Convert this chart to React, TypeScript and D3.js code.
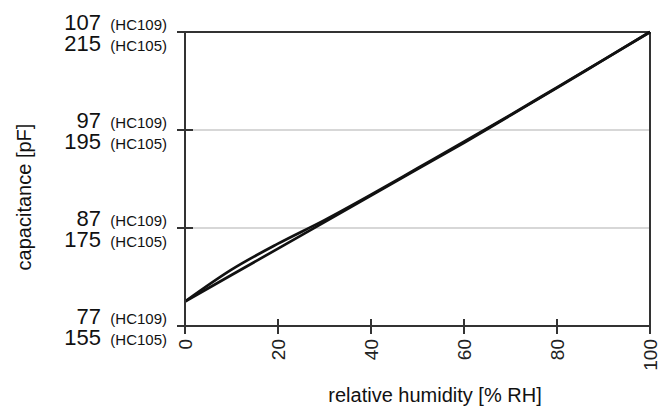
import React from 'react';
import * as d3 from 'd3';

// relative humidity [% RH]
const rh = [0, 10, 20, 30, 40, 50, 60, 70, 80, 90, 100];
// capacitance in HC105 pF, two nearly identical curves
const curveA = [160, 165.4, 170.8, 176.2, 181.6, 187.0, 192.4, 198.0, 203.6, 209.3, 215];
const curveB = [160, 166.5, 171.8, 176.6, 181.8, 187.2, 192.6, 198.1, 203.7, 209.3, 215];

const yTicks105 = [155, 175, 195, 215];
const yTicks109 = [77, 87, 97, 107];
const xTicks = [0, 20, 40, 60, 80, 100];

const W = 667;
const H = 407;
const left = 185, right = 650, top = 32, bottom = 326;
const font = '"Liberation Sans", Arial, sans-serif';

export default function App() {
  const x = d3.scaleLinear().domain([0, 100]).range([left, right]);
  const y = d3.scaleLinear().domain([155, 215]).range([bottom, top]);

  const line = d3
    .line<number>()
    .x((d, i) => x(rh[i]))
    .y((d) => y(d))
    .curve(d3.curveMonotoneX);

  return (
    <svg
      width={W}
      height={H}
      style={{ position: 'absolute', left: 0, top: 0, background: '#fff' }}
      fontFamily={font}
    >
      {/* gridlines */}
      {yTicks105.slice(1, 3).map((t) => (
        <line key={'g' + t} x1={left} x2={right} y1={y(t)} y2={y(t)} stroke="#b0b0b0" strokeWidth={1.2} />
      ))}
      {/* frame: top and right */}
      <line x1={left - 8} x2={right} y1={top} y2={top} stroke="#333" strokeWidth={2} />
      <line x1={right} x2={right} y1={top} y2={bottom + 8} stroke="#333" strokeWidth={2} />

      {/* curves */}
      <path d={line(curveA) || ''} fill="none" stroke="#111" strokeWidth={2.7} />
      <path d={line(curveB) || ''} fill="none" stroke="#111" strokeWidth={2.7} />

      {/* axes */}
      <line x1={left} x2={left} y1={top} y2={bottom + 8} stroke="#333" strokeWidth={2} />
      <line x1={left - 8} x2={right} y1={bottom} y2={bottom} stroke="#333" strokeWidth={2} />

      {yTicks105.map((t, i) => (
        <g key={'y' + t} fill="#111">
          <line x1={left - 8} x2={left + 8} y1={y(t)} y2={y(t)} stroke="#333" strokeWidth={2} />
          <text x={101} y={y(t) - 2} textAnchor="end" fontSize={22}>
            {yTicks109[i]}
          </text>
          <text x={167} y={y(t) - 2} textAnchor="end" fontSize={15}>
            (HC109)
          </text>
          <text x={101} y={y(t) + 19} textAnchor="end" fontSize={22}>
            {t}
          </text>
          <text x={167} y={y(t) + 19} textAnchor="end" fontSize={15}>
            (HC105)
          </text>
        </g>
      ))}

      {xTicks.map((t) => (
        <g key={'x' + t}>
          <line x1={x(t)} x2={x(t)} y1={bottom - 7} y2={bottom + 8} stroke="#333" strokeWidth={2} />
          <text
            transform={`translate(${x(t)},${bottom + 13}) rotate(-90)`}
            textAnchor="end"
            dy="0.35em"
            fontSize={19}
            fill="#222"
          >
            {t}
          </text>
        </g>
      ))}

      <text x={435} y={402} textAnchor="middle" fontSize={20} fill="#111">
        relative humidity [% RH]
      </text>
      <text
        transform={`translate(31,197) rotate(-90)`}
        textAnchor="middle"
        fontSize={20}
        fill="#111"
      >
        capacitance [pF]
      </text>
    </svg>
  );
}
